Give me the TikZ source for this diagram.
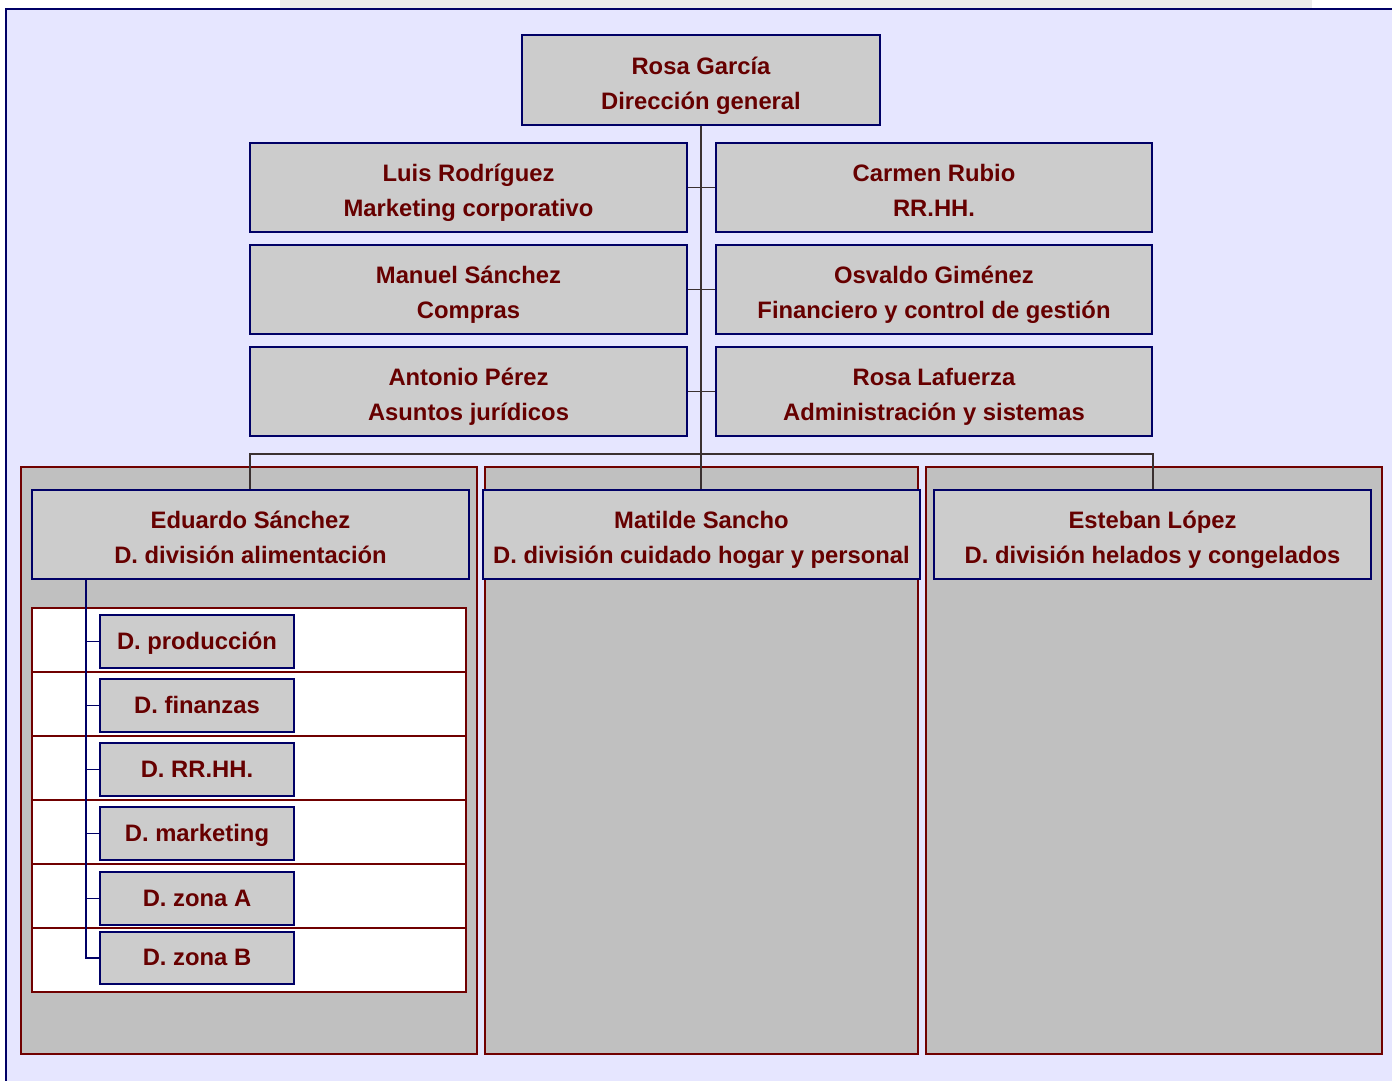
\documentclass[tikz,border=0pt]{standalone}
\usepackage{fontspec}
\setmainfont{Liberation Sans}
\definecolor{pagebg}{HTML}{E6E6FF}
\definecolor{navy}{HTML}{000066}
\definecolor{boxgray}{HTML}{CCCCCC}
\definecolor{panelgray}{HTML}{C0C0C0}
\definecolor{panelred}{HTML}{700000}
\definecolor{txt}{HTML}{660000}
\definecolor{linkgray}{HTML}{3A3030}
\begin{document}
\begin{tikzpicture}[x=1pt,y=-1pt,
  box/.style={draw=navy, line width=2.9pt, fill=boxgray, text=txt,
    font=\bfseries\fontsize{23.8}{35}\selectfont, align=center, inner sep=0pt},
  bigbox/.style={box, minimum width=437pt, minimum height=89pt,
    text height=63pt, text depth=5pt},
  subbox/.style={box, minimum width=194pt, minimum height=53pt,
    text height=17pt, text depth=2pt},
  panel/.style={draw=panelred, line width=2.4pt, fill=panelgray, inner sep=0pt,
    minimum height=587pt},
  tablerow/.style={draw=panelred, line width=2pt, fill=white, inner sep=0pt,
    minimum width=434pt, minimum height=64pt},
  link/.style={draw=linkgray, line width=1.2pt},
  sublink/.style={draw=navy, line width=1.1pt}]
\useasboundingbox (0,0) rectangle (1392,1080);
\clip (0,0) rectangle (1392,1080);
% page and frame
\fill[white] (0,0) rectangle (1392,1080);
\fill[black!8] (280,0) rectangle (1312,8);
\filldraw[fill=pagebg, draw=navy, line width=2pt] (6,1100) -- (6,9) -- (1410,9) -- (1410,1100) -- cycle;

% top management
\node[bigbox, minimum width=358pt, minimum height=90pt] (rosa) at (701,80)
  {Rosa García\\Dirección general};
\node[bigbox] (luis) at (468.5,187.5) {Luis Rodríguez\\Marketing corporativo};
\node[bigbox, minimum width=436pt] (carmen) at (934,187.5) {Carmen Rubio\\RR.HH.};
\node[bigbox] (manuel) at (468.5,289.5) {Manuel Sánchez\\Compras};
\node[bigbox, minimum width=436pt] (osvaldo) at (934,289.5) {Osvaldo Giménez\\Financiero y control de gestión};
\node[bigbox] (antonio) at (468.5,391.5) {Antonio Pérez\\Asuntos jurídicos};
\node[bigbox, minimum width=436pt] (lafuerza) at (934,391.5) {Rosa Lafuerza\\Administración y sistemas};

% division panels
\node[panel, minimum width=456pt] (p1) at (249,760.5) {};
\node[panel, minimum width=433pt] (p2) at (701.5,760.5) {};
\node[panel, minimum width=456pt] (p3) at (1154,760.5) {};

% staff links
\draw[link] (luis.east) -- (carmen.west);
\draw[link] (manuel.east) -- (osvaldo.west);
\draw[link] (antonio.east) -- (lafuerza.west);

% division heads
\coordinate (edtop) at (250,490);
\coordinate (estop) at (1153,490);
\draw[link] (rosa.south) -- (701,490);
\draw[link] (edtop) -- ++(0,-36) -| (estop);

\node[bigbox] (eduardo) at (250.5,534.5) {Eduardo Sánchez\\D. división alimentación};
\node[bigbox] (matilde) at (701.5,534.5) {Matilde Sancho\\D. división cuidado hogar y personal};
\node[bigbox] (esteban) at (1152.5,534.5) {Esteban López\\D. división helados y congelados};

% departments of the food division
\node[tablerow] (r1) at (249,640) {};
\node[tablerow] (r2) at (249,704) {};
\node[tablerow] (r3) at (249,768) {};
\node[tablerow] (r4) at (249,832) {};
\node[tablerow] (r5) at (249,896) {};
\node[tablerow] (r6) at (249,960) {};

\coordinate (spx) at (86,0);
\coordinate (spine) at (eduardo.south -| spx);

\node[subbox] (s1) at (197,641.5) {D. producción};
\node[subbox] (s2) at (197,705.5) {D. finanzas};
\node[subbox] (s3) at (197,769.5) {D. RR.HH.};
\node[subbox] (s4) at (197,833.5) {D. marketing};
\node[subbox] (s5) at (197,898.5) {D. zona A};
\node[subbox, minimum height=52pt] (s6) at (197,958) {D. zona B};

\draw[sublink] (spine) |- (s6.west);
\foreach \s in {s1,s2,s3,s4,s5}
  \draw[sublink] (spine |- \s.west) -- (\s.west);
\end{tikzpicture}
\end{document}
